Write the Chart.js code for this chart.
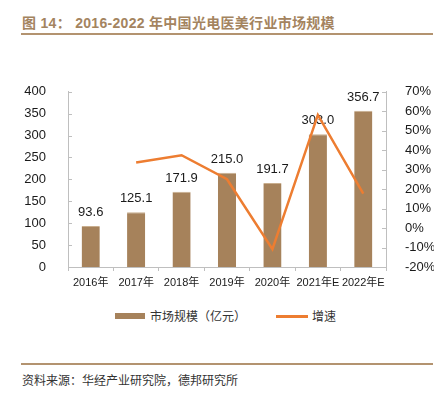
<!DOCTYPE html>
<html>
<head>
<meta charset="utf-8">
<script src="https://cdn.jsdelivr.net/npm/chart.js@4/dist/chart.umd.min.js"></script>
<style>
  html, body { margin: 0; padding: 0; background: #fff; }
  body { width: 434px; height: 397px; position: relative; overflow: hidden;
         font-family: "Liberation Sans", "Noto Sans CJK SC", sans-serif; }
  #title { position: absolute; left: 22px; top: 12px; font-size: 14px; font-weight: bold;
           color: #a4845f; white-space: nowrap; letter-spacing: 0.3px; }
  .rule { position: absolute; left: 21px; width: 412px; height: 2px; background: #b39370; }
  #box { position: absolute; left: 0; top: 70px; width: 434px; height: 220px; }
  #legend { position: absolute; top: 308px; left: 0; width: 434px; height: 16px;
            font-size: 12px; color: #333; font-family: "Noto Sans CJK SC", sans-serif; }
  .item { position: absolute; top: 0; line-height: 16px; white-space: nowrap; }
  .sw { position: absolute; }
  #source { position: absolute; left: 22px; top: 371px; font-size: 12px; color: #333;
            font-family: "Noto Sans CJK SC", sans-serif; white-space: nowrap; }
</style>
</head>
<body>
<div id="title">图 14： 2016-2022 年中国光电医美行业市场规模</div>
<div class="rule" style="top:33px"></div>
<div id="box"><canvas id="chart"></canvas></div>
<div id="legend">
  <div class="sw" style="left:115px; top:5px; width:30px; height:6px; background:#a6825b"></div>
  <div class="item" style="left:150px">市场规模（亿元）</div>
  <div class="sw" style="left:276px; top:7px; width:32px; height:3px; background:#ed7d31"></div>
  <div class="item" style="left:312px">增速</div>
</div>
<div class="rule" style="top:363px"></div>
<div id="source">资料来源：华经产业研究院，德邦研究所</div>

<script>
// 年份
const categories = ['2016年', '2017年', '2018年', '2019年', '2020年', '2021年E', '2022年E'];
// 市场规模（亿元）
const marketSize = [93.6, 125.1, 171.9, 215.0, 191.7, 303.0, 356.7];
// 增速 (%)
const growth = [null, 33.7, 37.4, 25.1, -10.8, 58.1, 17.7];

const axisColor = '#bfbfbf';

// 柱顶数值
const barLabels = {
  id: 'barLabels',
  afterDatasetDraw(chart, args) {
    if (args.index !== 0) return;
    const ctx = chart.ctx;
    ctx.save();
    ctx.font = '13px "Liberation Sans", Arial, sans-serif';
    ctx.fillStyle = '#1a1a1a';
    ctx.textAlign = 'center';
    ctx.textBaseline = 'bottom';
    args.meta.data.forEach((bar, i) => {
      ctx.fillText(marketSize[i].toFixed(1), bar.x, bar.y - 7);
    });
    ctx.restore();
  }
};

// 坐标轴内侧刻度
const innerTicks = {
  id: 'innerTicks',
  afterDraw(chart) {
    const ctx = chart.ctx;
    ctx.save();
    ctx.strokeStyle = axisColor;
    ctx.lineWidth = 1;
    ['y', 'y1'].forEach(id => {
      const s = chart.scales[id];
      const x = id === 'y' ? s.right : s.left;
      const dir = id === 'y' ? 1 : -1;
      s.ticks.forEach((t, i) => {
        const py = Math.round(s.getPixelForTick(i)) + 0.5;
        ctx.beginPath();
        ctx.moveTo(x, py);
        ctx.lineTo(x + dir * 4, py);
        ctx.stroke();
      });
    });
    ctx.restore();
  }
};

new Chart(document.getElementById('chart'), {
  data: {
    labels: categories,
    datasets: [
      {
        type: 'bar',
        label: '市场规模（亿元）',
        data: marketSize,
        backgroundColor: '#a6825b',
        borderColor: '#c9ae8e',
        borderWidth: { top: 1, left: 0, right: 0, bottom: 0 },
        borderSkipped: false,
        barPercentage: 0.4,
        categoryPercentage: 1.0,
        yAxisID: 'y',
        order: 2
      },
      {
        type: 'line',
        label: '增速',
        data: growth,
        borderColor: '#ed7d31',
        borderWidth: 2.5,
        pointRadius: 0,
        tension: 0,
        spanGaps: false,
        yAxisID: 'y1',
        order: 1
      }
    ]
  },
  options: {
    responsive: true,
    maintainAspectRatio: false,
    animation: false,
    layout: { padding: { top: 17, left: 0, right: 0, bottom: 0 } },
    plugins: {
      legend: { display: false },
      tooltip: { enabled: false }
    },
    scales: {
      x: {
        offset: true,
        grid: { offset: true, drawOnChartArea: false, drawTicks: true, tickLength: 4, color: axisColor },
        border: { color: axisColor },
        ticks: {
          color: '#1a1a1a',
          padding: 5,
          maxRotation: 0,
          autoSkip: false,
          font: { family: '"Liberation Sans", "Noto Sans CJK SC", sans-serif', size: 11 }
        },
        afterFit(scale) { scale.height = 23; }
      },
      y: {
        position: 'left',
        min: 0,
        max: 400,
        grid: { display: false },
        border: { color: axisColor },
        ticks: {
          stepSize: 50,
          color: '#1a1a1a',
          padding: 14,
          font: { family: '"Liberation Sans", Arial, sans-serif', size: 13 }
        },
        afterFit(scale) { scale.width = 68; }
      },
      y1: {
        position: 'right',
        min: -20,
        max: 70,
        grid: { display: false },
        border: { color: axisColor },
        ticks: {
          stepSize: 10,
          color: '#1a1a1a',
          padding: 11,
          font: { family: '"Liberation Sans", Arial, sans-serif', size: 13 },
          callback: v => v + '%'
        },
        afterFit(scale) { scale.width = 48; }
      }
    }
  },
  plugins: [barLabels, innerTicks]
});
</script>
</body>
</html>
